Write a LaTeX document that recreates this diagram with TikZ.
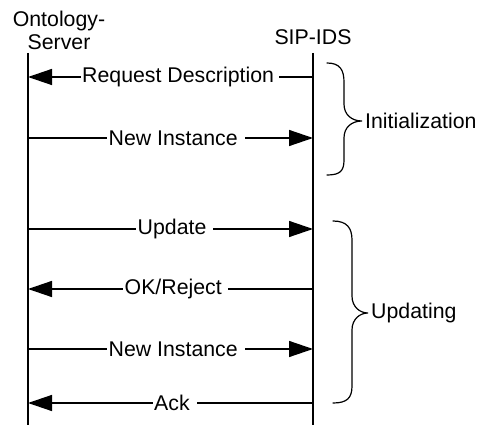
\documentclass[tikz,border=0pt]{standalone}
\usepackage{fontspec}
\setmainfont{Liberation Sans}
\usetikzlibrary{arrows.meta}
\begin{document}
\begin{tikzpicture}[x=1pt,y=-1pt,
  life/.style={line width=1.6pt},
  msg/.style={line width=1.4pt,-{Triangle[length=24pt,width=16pt]}},
  lbl/.style={fill=white,inner xsep=1.5pt,inner ysep=1pt,anchor=west,font=\fontsize{21.3}{24}\selectfont},
  brc/.style={line width=1.2pt,line cap=round},
  hdr/.style={font=\fontsize{21.3}{23}\selectfont,align=center,inner sep=0pt},
  blbl/.style={font=\fontsize{21.3}{24}\selectfont,anchor=west,inner sep=0pt}]
\useasboundingbox (0,0) rectangle (485,425);
% headers
\node[hdr] (os) at (59,30) {Ontology-\\Server};
\node[hdr] (sip) at (313,37) {SIP-IDS};
% lifelines
\coordinate (Ltop) at (28,53); \coordinate (Lbot) at (28,425);
\coordinate (Rtop) at (313,53); \coordinate (Rbot) at (313,425);
\draw[life] (Ltop) -- (Lbot);
\draw[life] (Rtop) -- (Rbot);
% message end points
\foreach \n/\y in {1/77,2/138,3/229,4/289,5/349,6/403}{
  \coordinate (L\n) at (28,\y);
  \coordinate (R\n) at (313,\y);
}
\draw[msg] (R1) -- (L1);
\node[lbl] (t1) at (80.5,77) {Request Description\kern3.5pt};
\draw[msg] (L2) -- (R2);
\node[lbl] (t2) at (107,138) {New Instance\kern6pt};
\draw[msg] (L3) -- (R3);
\node[lbl] (t3) at (136,229) {Update\kern5pt};
\draw[msg] (R4) -- (L4);
\node[lbl] (t4) at (123,289) {OK/Reject\kern5pt};
\draw[msg] (L5) -- (R5);
\node[lbl] (t5) at (107,349) {New Instance\kern6pt};
\draw[msg] (R6) -- (L6);
\node[lbl] (t6) at (152.5,403) {Ack\kern6pt};
% braces
\coordinate (b1tip) at (362,121);
\draw[brc] (327,63) .. controls (340,63) and (344,70) .. (344,82)
  -- (344,104) .. controls (344,115) and (352,121) .. (b1tip)
  .. controls (352,121) and (344,127) .. (344,138)
  -- (344,160) .. controls (344,171) and (340,175) .. (327,175);
\node[blbl] (init) at (365,121) {Initialization};
\coordinate (b2tip) at (368,313);
\draw[brc] (333,221) .. controls (347,221) and (352,228) .. (352,240)
  -- (352,296) .. controls (352,307) and (360,313) .. (b2tip)
  .. controls (360,313) and (352,319) .. (352,330)
  -- (352,386) .. controls (352,398) and (347,403) .. (333,403);
\node[blbl] (upd) at (371,313) {Updating};
\end{tikzpicture}
\end{document}
